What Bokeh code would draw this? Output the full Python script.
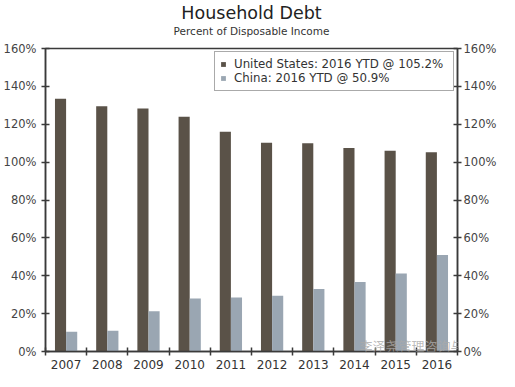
from bokeh.plotting import figure
from bokeh.models import (ColumnDataSource, LinearAxis, Range1d, FixedTicker,
                          PrintfTickFormatter, Legend, LegendItem, Title, Label)
from bokeh.transform import dodge
from bokeh.embed import file_html
from bokeh.resources import INLINE

years = ["2007", "2008", "2009", "2010", "2011", "2012", "2013", "2014", "2015", "2016"]
us_debt = [133.5, 129.5, 128.3, 124.0, 116.0, 110.2, 110.0, 107.5, 106.0, 105.2]
china_debt = [10.4, 10.9, 21.2, 28.0, 28.5, 29.5, 33.0, 36.7, 41.2, 50.9]
y_ticks = [0, 20, 40, 60, 80, 100, 120, 140, 160]

idx = list(range(len(years)))
src = ColumnDataSource(dict(x=idx, us=us_debt, cn=china_debt))

FONT = "DejaVu Sans"
US_COLOR = "#5a5248"
CN_COLOR = "#9aa6b2"
AX_COLOR = "#3a3a3a"

p = figure(width=499, height=371, output_backend="svg", toolbar_location=None,
           x_range=Range1d(-0.5, len(years) - 0.5), y_range=Range1d(0, 160),
           min_border_left=44, min_border_right=40, min_border_top=0, min_border_bottom=0)

us = p.vbar(x=dodge("x", -0.135, range=p.x_range), top="us", width=0.27, source=src,
            fill_color=US_COLOR, line_color=None)
cn = p.vbar(x=dodge("x", 0.135, range=p.x_range), top="cn", width=0.27, source=src,
            fill_color=CN_COLOR, line_color=None)

p.grid.visible = False
p.outline_line_color = AX_COLOR
p.outline_line_width = 1.5
p.background_fill_color = "white"
p.border_fill_color = "white"

# x axis: labels at category centres, ticks at category boundaries
xa = p.xaxis[0]
xa.ticker = FixedTicker(ticks=idx, minor_ticks=[i - 0.5 for i in range(len(years) + 1)])
xa.major_label_overrides = {i: y for i, y in enumerate(years)}
xa.major_tick_in = 0
xa.major_tick_out = 0
xa.minor_tick_in = 4
xa.minor_tick_out = 4
xa.minor_tick_line_color = AX_COLOR
xa.minor_tick_line_width = 1.5
xa.axis_line_color = AX_COLOR
xa.axis_line_width = 1.5
xa.major_label_standoff = 4
xa.axis_label_standoff = 0
xa.major_label_text_font = FONT
xa.major_label_text_font_size = "12px"
xa.major_label_text_color = "#333333"

ya = p.yaxis[0]
ra = LinearAxis()
p.add_layout(ra, "right")
for ax in (ya, ra):
    ax.ticker = FixedTicker(ticks=y_ticks)
    ax.formatter = PrintfTickFormatter(format="%d%%")
    ax.major_tick_in = 4
    ax.major_tick_out = 4
    ax.minor_tick_line_color = None
    ax.major_tick_line_color = AX_COLOR
    ax.major_tick_line_width = 1.5
    ax.axis_line_color = AX_COLOR
    ax.axis_line_width = 1.5
    ax.axis_label_standoff = 0
    ax.major_label_text_font = FONT
    ax.major_label_text_font_size = "11.5px"
    ax.major_label_text_color = "#444444"
ya.major_label_standoff = 5
ra.major_label_standoff = 2

legend = Legend(items=[LegendItem(label="United States: 2016 YTD @ 105.2%", renderers=[us]),
                       LegendItem(label="China: 2016 YTD @ 50.9%", renderers=[cn])],
                location="top_right", margin=3, padding=5, spacing=0,
                label_text_font=FONT, label_text_font_size="11.8px",
                label_text_color="#333333", label_height=11, label_standoff=8,
                label_width=214, glyph_width=6, glyph_height=6,
                border_line_color="#555555", border_line_width=1.2,
                background_fill_alpha=1.0)
p.add_layout(legend)

# spacer between the subtitle and the plot frame (closest to the frame)
p.add_layout(Title(text=" ", text_font=FONT, text_font_size="9px",
                   standoff=0, offset=0), "above")
p.add_layout(Title(text="Percent of Disposable Income", align="center",
                   text_font=FONT, text_font_size="10.5px", text_font_style="normal",
                   text_color="#333333", standoff=0, offset=0), "above")
p.add_layout(Title(text="Household Debt", align="center",
                   text_font=FONT, text_font_size="17.5px", text_font_style="normal",
                   text_color="#222222", standoff=0, offset=0), "above")

wm = Label(x=8.7, y=3, text="李泽尧管理咨询与培训", text_font="Noto Sans CJK SC",
           text_font_size="13px", text_color="#aaaaaa", text_alpha=0.8,
           text_align="center", text_baseline="middle")
p.add_layout(wm)

open("out.html", "w").write(file_html(p, INLINE))
